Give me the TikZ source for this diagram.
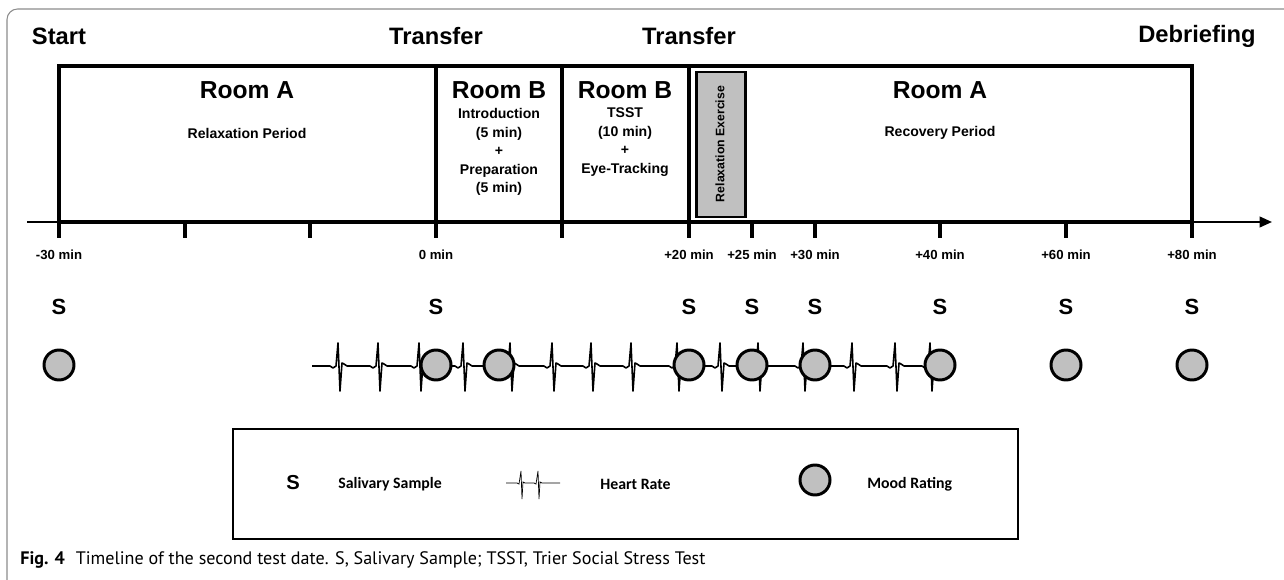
\documentclass[tikz,border=0pt]{standalone}
\usepackage{fontspec}
\setmainfont{Liberation Sans}
\newfontfamily\calfont{Carlito}
\newfontfamily\capfont{PT Sans}
\usetikzlibrary{arrows.meta}
\definecolor{moodgrey}{RGB}{192,192,192}
\definecolor{framegrey}{RGB}{140,140,140}
\tikzstyle{phase} = [font=\bfseries\fontsize{13.5}{16}\selectfont, inner sep=0pt]
\tikzstyle{room} = [font=\bfseries\fontsize{14}{17}\selectfont, inner sep=0pt]
\tikzstyle{task} = [font=\bfseries\fontsize{8}{10.6}\selectfont, align=center,
inner sep=0pt]
\tikzstyle{tlabel} = [font=\bfseries\fontsize{7.5}{9}\selectfont, inner sep=0pt]
\tikzstyle{sample} = [font=\bfseries\fontsize{12.5}{15}\selectfont, inner sep=0pt]
\tikzstyle{mood} = [circle, draw=black, line width=1.7pt, fill=moodgrey,
minimum size=0.6cm, inner sep=0pt]
\tikzstyle{boxline} = [line width=2.2pt, line cap=rect]
\tikzstyle{ecg} = [line width=0.9pt, line join=round]
\tikzstyle{legtext} = [font=\calfont\bfseries\fontsize{9}{11}\selectfont,
anchor=west, inner sep=0pt]

\begin{document}
\begin{tikzpicture}[x=0.02cm, y=-0.02cm]
\useasboundingbox (0,0) rectangle (1284,580);

% frame
\draw[framegrey, line width=0.6pt, rounded corners=6pt] (7,590) -- (7,9) -- (1295,9);

% phases
\node[phase] (start) at (59,36) {Start};
\node[phase] (transfer1) at (436,36) {Transfer};
\node[phase] (transfer2) at (689,36) {Transfer};
\node[phase] (debrief) at (1197,36) {Debriefing};

% time axis
\draw[line width=1.2pt, -{Triangle[length=7pt, width=6pt]}] (27,222) -- (1272,222);

% rooms
\draw[boxline] (59,66) rectangle (436,222);
\draw[boxline] (436,66) rectangle (562,222);
\draw[boxline] (562,66) rectangle (689,222);
\draw[boxline] (689,66) rectangle (1192,222);
\draw[line width=1.7pt, fill=moodgrey] (696,72) rectangle (745,217);

\node[room] (roomA1) at (247,90) {Room A};
\node[task] (relaxP) at (247,133) {Relaxation Period};
\node[room] (roomB1) at (499,90) {Room B};
\node[task] (introP) at (499,152) {Introduction\\(5 min)\\+\\Preparation\\(5 min)};
\node[room] (roomB2) at (625,90) {Room B};
\node[task] (tsst) at (625,142) {TSST\\(10 min)\\+\\Eye-Tracking};
\node[room] (roomA2) at (940,90) {Room A};
\node[task] (recovP) at (940,133) {Recovery Period};
\node[task, rotate=90, font=\bfseries\fontsize{7}{8}\selectfont] (relaxEx) at (720,144)
{Relaxation Exercise};

% ticks
\foreach \x in {59,185,310,436,562,689,752,815,940,1066,1192}
  \draw[line width=2pt] (\x,222) -- (\x,238);

% time labels and samples
\foreach \x/\lab [count=\i] in {59/-30 min, 436/0 min, 689/+20 min, 752/+25 min,
815/+30 min, 940/+40 min, 1066/+60 min, 1192/+80 min}{
  \node[tlabel] (time\i) at (\x,255) {\lab};
  \node[sample] (s\i) at (\x,307) {S};
}

% heart rate
\draw[ecg] (312,366) \foreach \b in {338,378,419,463,510,552,591,631,677,720,758,803,852,895,930}
  { -- (\b-8,366) -- (\b-5,368) -- (\b-2,366) -- (\b,343) -- (\b+2,391)
    -- (\b+4,363) -- (\b+6,364) -- (\b+9,366) } -- (940,366);

% mood ratings
\foreach \x [count=\i] in {59,436,499,689,752,815,940,1066,1192}
  \node[mood] (m\i) at (\x,365) {};

% legend
\draw[line width=0.7pt] (233,429) rectangle (1018,539);
\node[sample, font=\bfseries\fontsize{11.5}{14}\selectfont] (legS) at (293,483) {S};
\node[legtext] (legSText) at (338,484) {Salivary Sample};
\draw[line width=0.4pt] (506,483) \foreach \b in {521,538}
  { -- (\b-4,483) -- (\b-2,484) -- (\b,471) -- (\b+1,499) -- (\b+2,482) -- (\b+4,483) }
  -- (560,483);
\node[legtext] (legHRText) at (600,484) {Heart Rate};
\node[mood] (legM) at (815,480) {};
\node[legtext] (legMText) at (867,484) {Mood Rating};

% caption
\node[anchor=west, inner sep=0pt, font=\capfont\fontsize{10.3}{12}\selectfont] (caption)
at (20,560) {\textbf{Fig. 4}\hspace{0.6em}Timeline of the second test date. S, Salivary Sample; TSST, Trier Social Stress Test};
\end{tikzpicture}
\end{document}
